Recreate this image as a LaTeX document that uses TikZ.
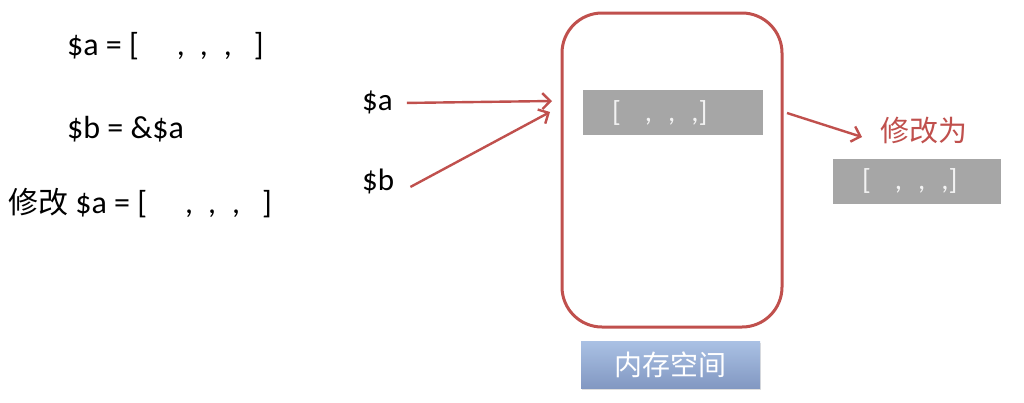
\documentclass[tikz,border=0pt]{standalone}
\usepackage{fontspec}
\setmainfont{Carlito}
\newfontfamily\cjk{Noto Sans CJK SC}
\usetikzlibrary{arrows.meta,shadows}

\definecolor{memred}{RGB}{192,80,77}
\definecolor{cellgray}{RGB}{166,166,166}
\definecolor{celltext}{RGB}{242,242,242}
\definecolor{tagtop}{RGB}{170,193,228}
\definecolor{tagbot}{RGB}{130,152,194}

\newcommand{\arr}{[\hspace{38pt},\hspace{15pt},\hspace{16pt},\hspace{22pt}]}
\newcommand{\cellarr}{[\hspace{24pt},\hspace{16pt},\hspace{16pt},]}

\begin{document}
\begin{tikzpicture}[x=1pt,y=-1pt,
    txt/.style={font=\fontsize{32}{34}\selectfont, inner sep=0pt, anchor=base west},
    cell/.style={fill=cellgray, text=celltext, font=\fontsize{29}{30}\selectfont,
      inner xsep=29pt, inner ysep=0pt, minimum height=45pt, align=left},
    ptr/.style={memred, line width=2.4pt, -{Straight Barb[length=8pt,width=16pt]}}]
    \useasboundingbox[fill=white] (0,0) rectangle (1024,402);

    % code on the left
    \node[txt] (la) at (67,55) {\$a = \arr};
    \node[txt] (lb) at (67,138) {\$b = \&\$a};
    \node[txt] (lc) at (8,213) {{\cjk\fontsize{30}{32}\selectfont 修改} \$a = \arr};

    % memory
    \node[draw=memred, line width=3pt, rounded corners=40pt,
      minimum width=220pt, minimum height=314pt] (mem) at (672,170) {};
    \node[cell, text width=122pt] (val) at (673,112.5) {\cellarr};
    \node[shade, top color=tagtop, bottom color=tagbot,
      drop shadow={opacity=0.25, shadow xshift=1pt, shadow yshift=-2pt},
      minimum width=179pt, minimum height=47pt, text=white,
      font=\cjk\fontsize{28}{30}\selectfont] (tag) at (670.5,364.5) {内存空间};

    % variables
    \node[txt, font=\fontsize{31}{33}\selectfont] (va) at (362,110) {\$a};
    \node[txt, font=\fontsize{31}{33}\selectfont] (vb) at (362,190) {\$b};
    \coordinate (ina) at (552,101);
    \coordinate (inb) at (550,112);
    \draw[ptr] (va.east) ++(14pt,-1pt) -- (ina);
    \draw[ptr] (vb.east) ++(16pt,-6pt) -- (inb);

    % new value
    \node[text=memred, font=\cjk\fontsize{29}{30}\selectfont, inner sep=0pt] (mod) at (924,131) {修改为};
    \node[cell, text width=110pt] (nval) at (917,181) {\cellarr};
    \coordinate (out) at (787,113);
    \coordinate (outend) at (862,137);
    \draw[ptr] (out) -- (outend);
\end{tikzpicture}
\end{document}
